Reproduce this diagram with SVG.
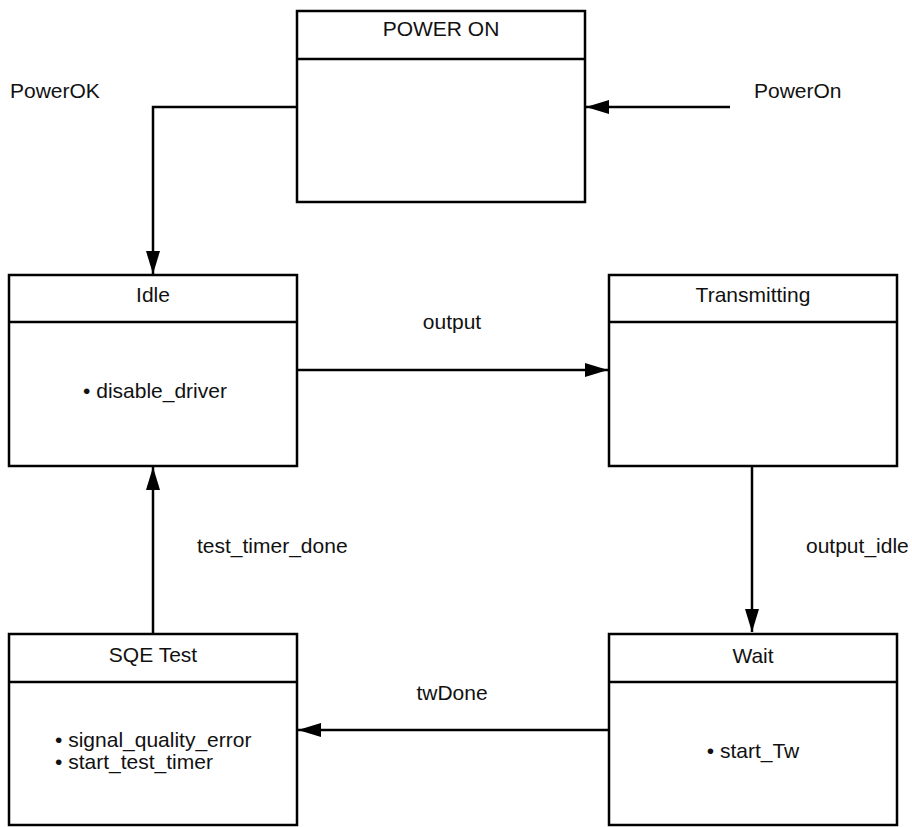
<svg xmlns="http://www.w3.org/2000/svg" width="912" height="827" viewBox="0 0 912 827">
<style>
  .box { fill: #fff; stroke: #000; stroke-width: 2.5; }
  .div { stroke: #000; stroke-width: 2.5; }
  .t { font-family: "Liberation Sans", Arial, sans-serif; font-size: 21px; fill: #111; }
  .c { text-anchor: middle; }
  .edge { fill: none; stroke: #000; stroke-width: 2.5; marker-end: url(#arrow); }
</style>
<defs>
  <marker id="arrow" markerUnits="userSpaceOnUse" markerWidth="24" markerHeight="16" viewBox="0 0 24 16" refX="23" refY="8" orient="auto">
    <path d="M0,1 L23,8 L0,15 Z" fill="#000"/>
  </marker>
</defs>
<rect width="912" height="827" fill="#fff"/>

<g id="connectors">
  <path class="edge" d="M730,107 L586,107"/>
  <path class="edge" d="M297,107 L153,107 L153,274"/>
  <path class="edge" d="M297,370 L608,370"/>
  <path class="edge" d="M752,466 L752,632"/>
  <path class="edge" d="M609,730 L298,730"/>
  <path class="edge" d="M153,634 L153,467"/>
  <text class="t" x="10" y="98">PowerOK</text>
  <text class="t" x="754" y="98">PowerOn</text>
  <text class="t c" x="452" y="329">output</text>
  <text class="t" x="806" y="553">output_idle</text>
  <text class="t" x="197" y="553">test_timer_done</text>
  <text class="t c" x="452" y="700">twDone</text>
</g>

<g id="power-on">
  <rect class="box" x="297" y="11" width="288" height="191"/>
  <line class="div" x1="297" y1="59" x2="585" y2="59"/>
  <text class="t c" x="441" y="36">POWER ON</text>
</g>

<g id="idle">
  <rect class="box" x="9" y="275" width="288" height="191"/>
  <line class="div" x1="9" y1="322" x2="297" y2="322"/>
  <text class="t c" x="153" y="302">Idle</text>
  <text class="t c" x="155" y="398">• disable_driver</text>
</g>

<g id="transmitting">
  <rect class="box" x="609" y="275" width="288" height="191"/>
  <line class="div" x1="609" y1="322" x2="897" y2="322"/>
  <text class="t c" x="753" y="302">Transmitting</text>
</g>

<g id="wait">
  <rect class="box" x="609" y="634" width="288" height="191"/>
  <line class="div" x1="609" y1="682" x2="897" y2="682"/>
  <text class="t c" x="753" y="663">Wait</text>
  <text class="t c" x="753" y="758">• start_Tw</text>
</g>

<g id="sqe-test">
  <rect class="box" x="9" y="634" width="288" height="191"/>
  <line class="div" x1="9" y1="682" x2="297" y2="682"/>
  <text class="t c" x="153" y="662">SQE Test</text>
  <text class="t" x="55" y="747">• signal_quality_error</text>
  <text class="t" x="55" y="769">• start_test_timer</text>
</g>
</svg>
